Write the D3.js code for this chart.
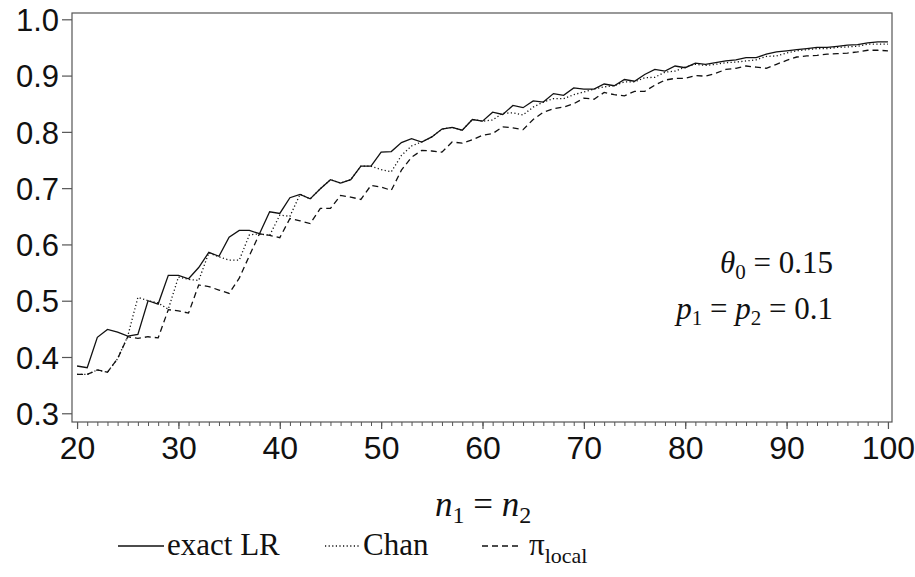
<!DOCTYPE html>
<html>
<head>
<meta charset="utf-8">
<script src="https://cdn.jsdelivr.net/npm/d3@7"></script>
<style>
  body { margin: 0; background: #fff; }
  svg { display: block; }
  .tick text { font-family: "Liberation Sans", Arial, sans-serif; }
  .serif { font-family: "Liberation Serif", "DejaVu Serif", serif; fill: #111; }
</style>
</head>
<body>
<svg id="chart" width="915" height="577"></svg>
<script>
// sample sizes n1 = n2
var nValues = d3.range(20, 101);

// power curves
var exactLR = [0.384, 0.381, 0.435, 0.449, 0.444, 0.437, 0.440, 0.500, 0.494, 0.545,
  0.545, 0.539, 0.559, 0.586, 0.579, 0.613, 0.625, 0.625, 0.619, 0.658,
  0.655, 0.683, 0.689, 0.681, 0.699, 0.715, 0.709, 0.715, 0.739, 0.739,
  0.764, 0.765, 0.781, 0.788, 0.782, 0.791, 0.805, 0.808, 0.803, 0.822,
  0.819, 0.835, 0.831, 0.847, 0.843, 0.855, 0.853, 0.868, 0.865, 0.878,
  0.876, 0.876, 0.885, 0.882, 0.893, 0.890, 0.902, 0.911, 0.908, 0.917,
  0.914, 0.922, 0.920, 0.923, 0.926, 0.928, 0.932, 0.932, 0.938, 0.942,
  0.944, 0.946, 0.948, 0.950, 0.950, 0.952, 0.954, 0.955, 0.958, 0.960,
  0.960];

var chan = [0.369, 0.369, 0.377, 0.373, 0.397, 0.437, 0.506, 0.500, 0.496, 0.485,
  0.542, 0.538, 0.536, 0.585, 0.578, 0.572, 0.572, 0.617, 0.619, 0.616,
  0.652, 0.650, 0.689, 0.681, 0.699, 0.715, 0.709, 0.715, 0.739, 0.739,
  0.733, 0.729, 0.758, 0.775, 0.782, 0.791, 0.805, 0.808, 0.803, 0.822,
  0.819, 0.821, 0.833, 0.834, 0.830, 0.844, 0.853, 0.859, 0.859, 0.866,
  0.871, 0.876, 0.880, 0.882, 0.889, 0.889, 0.896, 0.897, 0.906, 0.908,
  0.915, 0.920, 0.918, 0.920, 0.923, 0.924, 0.926, 0.928, 0.934, 0.935,
  0.940, 0.944, 0.946, 0.948, 0.948, 0.950, 0.951, 0.952, 0.956, 0.956,
  0.956];

var piLocal = [0.369, 0.369, 0.377, 0.373, 0.397, 0.436, 0.433, 0.436, 0.434, 0.484,
  0.482, 0.478, 0.528, 0.525, 0.519, 0.513, 0.540, 0.580, 0.619, 0.616,
  0.612, 0.646, 0.642, 0.637, 0.664, 0.664, 0.687, 0.684, 0.680, 0.705,
  0.702, 0.696, 0.732, 0.755, 0.767, 0.766, 0.764, 0.782, 0.780, 0.786,
  0.794, 0.797, 0.809, 0.807, 0.804, 0.822, 0.835, 0.841, 0.844, 0.850,
  0.860, 0.858, 0.870, 0.866, 0.864, 0.872, 0.872, 0.883, 0.892, 0.895,
  0.895, 0.900, 0.899, 0.904, 0.911, 0.913, 0.917, 0.915, 0.913, 0.920,
  0.927, 0.933, 0.935, 0.936, 0.938, 0.939, 0.940, 0.942, 0.945, 0.945,
  0.944];

var xTicks = [20, 30, 40, 50, 60, 70, 80, 90, 100];
var yTicks = [0.3, 0.4, 0.5, 0.6, 0.7, 0.8, 0.9, 1.0];

var svg = d3.select("#chart");

var x = d3.scaleLinear().domain([19.5, 100.4]).range([72, 892]);
var y = d3.scaleLinear().domain([0.2845, 1.0112]).range([422, 13]);

// frame
svg.append("rect")
    .attr("x", x.range()[0]).attr("y", y.range()[1])
    .attr("width", x.range()[1] - x.range()[0])
    .attr("height", y.range()[0] - y.range()[1])
    .attr("fill", "none").attr("stroke", "#555").attr("stroke-width", 1.2);

// y axis
var gY = svg.append("g")
    .attr("transform", "translate(" + x.range()[0] + ",0)")
    .call(d3.axisLeft(y).tickValues(yTicks).tickFormat(d3.format(".1f")).tickSize(10).tickPadding(3));
gY.select(".domain").remove();
gY.selectAll("line").attr("stroke", "#555").attr("stroke-width", 1.2);
gY.selectAll("text").attr("font-size", 31).attr("fill", "#111").attr("dy", "0.36em");

// x axis minor ticks
var gXm = svg.append("g")
    .attr("transform", "translate(0," + y.range()[0] + ")")
    .call(d3.axisBottom(x).tickValues(nValues).tickFormat("").tickSize(4));
gXm.select(".domain").remove();
gXm.selectAll("line").attr("stroke", "#555");

// x axis major ticks
var gX = svg.append("g")
    .attr("transform", "translate(0," + y.range()[0] + ")")
    .call(d3.axisBottom(x).tickValues(xTicks).tickFormat(d3.format("d")).tickSize(7).tickPadding(7));
gX.select(".domain").remove();
gX.selectAll("line").attr("stroke", "#555").attr("stroke-width", 1.2);
gX.selectAll("text").attr("font-size", 32).attr("fill", "#111");

// lines
var line = d3.line()
    .x(function(d, i) { return x(nValues[i]); })
    .y(function(d) { return y(d); });

var series = [
  { name: "exact LR", values: exactLR, dash: null },
  { name: "Chan", values: chan, dash: "1.2,2.4" },
  { name: "local", values: piLocal, dash: "6,4" }
];

svg.selectAll(".curve")
    .data(series)
  .enter().append("path")
    .attr("class", "curve")
    .attr("d", function(d) { return line(d.values); })
    .attr("fill", "none")
    .attr("stroke", "#111")
    .attr("stroke-width", 1.3)
    .attr("stroke-dasharray", function(d) { return d.dash; });

// annotation
var ann1 = svg.append("text").attr("class", "serif")
    .attr("x", 833).attr("y", 273).attr("text-anchor", "end").attr("font-size", 31);
ann1.append("tspan").attr("font-style", "italic").text("θ");
ann1.append("tspan").attr("font-size", 21).attr("dy", 6).text("0");
ann1.append("tspan").attr("dy", -6).text(" = 0.15");

var ann2 = svg.append("text").attr("class", "serif")
    .attr("x", 833).attr("y", 319).attr("text-anchor", "end").attr("font-size", 31);
ann2.append("tspan").attr("font-style", "italic").text("p");
ann2.append("tspan").attr("font-size", 21).attr("dy", 6).text("1");
ann2.append("tspan").attr("dy", -6).text(" = ");
ann2.append("tspan").attr("font-style", "italic").text("p");
ann2.append("tspan").attr("font-size", 21).attr("dy", 6).text("2");
ann2.append("tspan").attr("dy", -6).text(" = 0.1");

// x axis title
var xt = svg.append("text").attr("class", "serif")
    .attr("x", 483).attr("y", 516).attr("text-anchor", "middle").attr("font-size", 35);
xt.append("tspan").attr("font-style", "italic").text("n");
xt.append("tspan").attr("font-size", 24).attr("dy", 7).text("1");
xt.append("tspan").attr("dy", -7).text(" = ");
xt.append("tspan").attr("font-style", "italic").text("n");
xt.append("tspan").attr("font-size", 24).attr("dy", 7).text("2");

// legend
var legY = 546;
var legendItems = [
  { x0: 118, x1: 164, dash: null, label: "exact LR" },
  { x0: 325, x1: 360, dash: "1.2,2.4", label: "Chan" },
  { x0: 482, x1: 519, dash: "6,4", label: "π" }
];
legendItems.forEach(function(it) {
  svg.append("line")
      .attr("x1", it.x0).attr("x2", it.x1)
      .attr("y1", legY).attr("y2", legY)
      .attr("stroke", "#111").attr("stroke-width", 1.3)
      .attr("stroke-dasharray", it.dash);
  var t = svg.append("text").attr("class", "serif")
      .attr("x", it.x1 + (it.label === "π" ? 10 : 3)).attr("y", legY + 9).attr("font-size", 31)
      .text(it.label);
  if (it.label === "π") {
    t.append("tspan").attr("font-size", 22).attr("dy", 8).text("local");
  }
});
</script>
</body>
</html>
